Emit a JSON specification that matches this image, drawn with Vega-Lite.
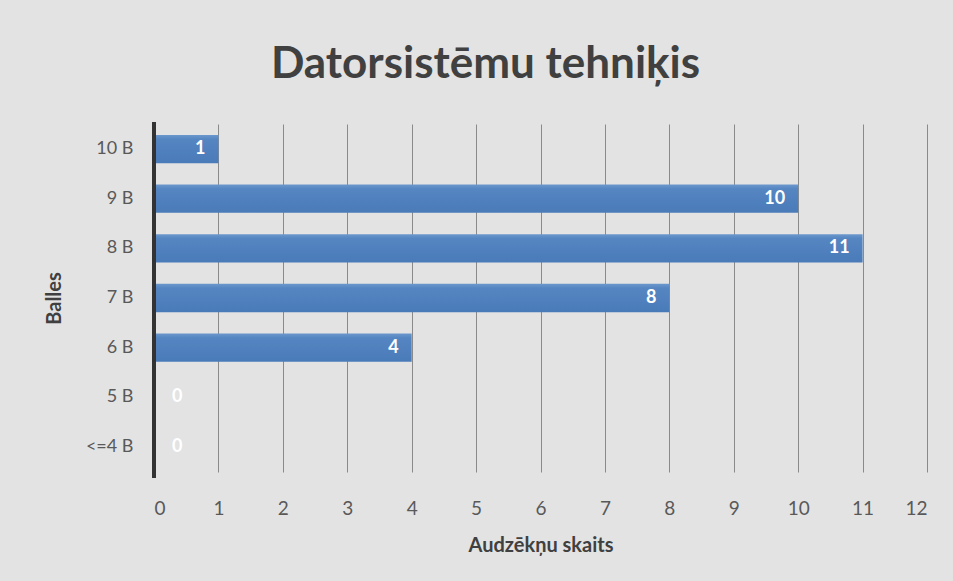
{
  "$schema": "https://vega.github.io/schema/vega-lite/v6.json",
  "width": 773,
  "height": 348,
  "autosize": {"type": "none"},
  "padding": {"left": 154, "top": 124, "right": 26, "bottom": 109},
  "background": "#e3e3e3",
  "title": {
    "text": "Datorsistēmu tehniķis",
    "font": "Lato",
    "fontSize": 44,
    "fontWeight": "bold",
    "color": "#404040",
    "anchor": "middle",
    "frame": "bounds",
    "offset": 34
  },
  "config": {
    "view": {"stroke": null},
    "font": "Lato"
  },
  "data": {
    "values": [
      {"balles": "10 B", "skaits": 1},
      {"balles": "9 B", "skaits": 10},
      {"balles": "8 B", "skaits": 11},
      {"balles": "7 B", "skaits": 8},
      {"balles": "6 B", "skaits": 4},
      {"balles": "5 B", "skaits": 0},
      {"balles": "<=4 B", "skaits": 0}
    ]
  },
  "encoding": {
    "y": {
      "field": "balles",
      "type": "nominal",
      "sort": null,
      "scale": {"paddingInner": 0.43, "paddingOuter": 0.22},
      "axis": {
        "title": "Balles",
        "titleFont": "Lato",
        "titleFontSize": 20,
        "titleFontWeight": "bold",
        "titleColor": "#404040",
        "titleX": -90,
        "labelFont": "Lato",
        "labelFontSize": 18,
        "labelColor": "#595959",
        "labelPadding": 21,
        "ticks": false,
        "domain": false,
        "grid": false
      }
    },
    "x": {
      "field": "skaits",
      "type": "quantitative",
      "scale": {"domain": [0, 12], "nice": false},
      "axis": {
        "title": "Audzēkņu skaits",
        "titleFont": "Lato",
        "titleFontSize": 20,
        "titleFontWeight": "bold",
        "titleColor": "#404040",
        "titlePadding": 17,
        "values": [0, 1, 2, 3, 4, 5, 6, 7, 8, 9, 10, 11, 12],
        "labelFont": "Lato",
        "labelFontSize": 19,
        "labelColor": "#595959",
        "labelPadding": 27,
        "ticks": false,
        "domain": false,
        "grid": true,
        "gridColor": "#8a8a8a",
        "gridWidth": 1
      }
    }
  },
  "layer": [
    {
      "mark": {
        "type": "bar",
        "fill": {
          "gradient": "linear",
          "x1": 0, "y1": 0, "x2": 0, "y2": 1,
          "stops": [
            {"offset": 0, "color": "#6b97cc"},
            {"offset": 0.15, "color": "#5586c2"},
            {"offset": 1, "color": "#4a7bb9"}
          ]
        }
      }
    },
    {
      "mark": {"type": "rule", "color": "#333333", "strokeWidth": 3, "y": -2, "y2": 354},
      "encoding": {"x": {"datum": 0}, "y": null}
    },
    {
      "transform": [{"filter": "datum.skaits > 0"}],
      "mark": {"type": "text", "align": "right", "dx": -13, "color": "#ffffff", "fontWeight": "bold", "fontSize": 18, "font": "Lato"},
      "encoding": {"text": {"field": "skaits", "type": "quantitative"}}
    },
    {
      "transform": [{"filter": "datum.skaits == 0"}],
      "mark": {"type": "text", "align": "left", "dx": 18, "color": "#ffffff", "fontWeight": "bold", "fontSize": 18, "font": "Lato"},
      "encoding": {"text": {"field": "skaits", "type": "quantitative"}}
    }
  ]
}
